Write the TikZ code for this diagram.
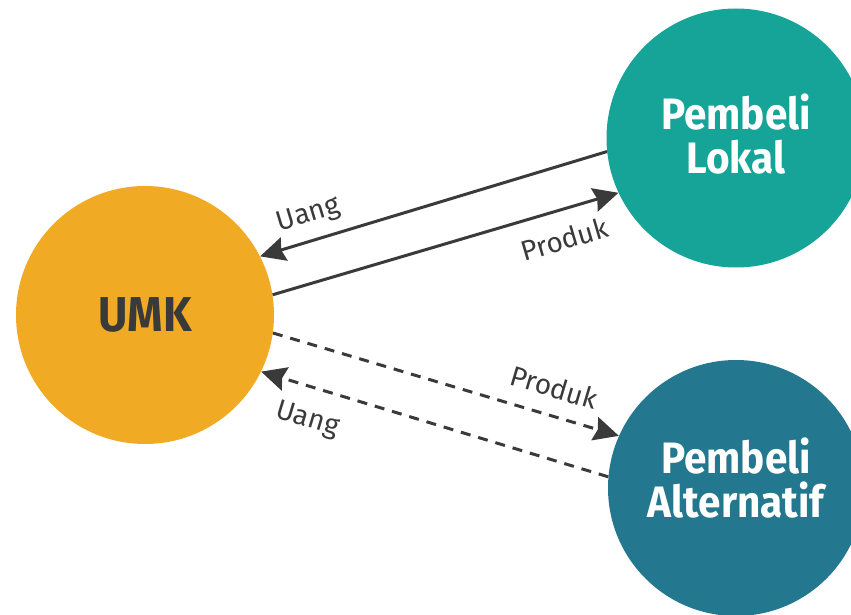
\documentclass[tikz,border=0pt]{standalone}
\usepackage{fontspec}
\setmainfont{Fira Sans}
\newfontfamily\headfont[FakeStretch=0.92]{Fira Sans}
\usetikzlibrary{arrows.meta}
\definecolor{umkorange}{RGB}{240,170,35}
\definecolor{lokalteal}{RGB}{22,164,152}
\definecolor{altblue}{RGB}{35,120,143}
\definecolor{arrowgray}{RGB}{58,58,58}
\newcommand{\lowpad}[1]{\rule[-#1]{0pt}{#1}}

\begin{document}
\begin{tikzpicture}[x=1pt, y=-1pt,
            every node/.style = {circle, minimum size = 258pt, inner sep = 0pt, align = center,
                                 font = \headfont\bfseries\fontsize{44}{44}\selectfont},
            flow/.style = {draw = arrowgray, line width = 3pt, -{Stealth[length=25pt, width=24pt, inset=3pt]}},
            altflow/.style = {flow, dash pattern = on 10pt off 8pt},
            lbl/.style = {rectangle, minimum size = 0pt, sloped, text = arrowgray,
                          font = \fontsize{28}{30}\selectfont}
        ]
        \useasboundingbox (0,0) rectangle (851,615);
        \clip (0,0) rectangle (851,615);
        \node[fill = umkorange, text = arrowgray, font = \headfont\bfseries\fontsize{49}{50}\selectfont] (A1) at (145,315) {UMK};
        \node[fill = lokalteal, text = white, minimum size = 259pt] (B1) at (736,138) {Pembeli\\Lokal\lowpad{8pt}};
        \node[fill = altblue, text = white, minimum size = 256pt] (B2) at (736,488) {Pembeli\\Alternatif\lowpad{20pt}};
        \path (B1.186) edge[flow] node[lbl, pos=0.84, above=11pt] {Uang} (A1.27);
        \path (A1.9) edge[flow] node[lbl, pos=0.82, below=17pt] {Produk} (B1.205);
        \path (A1.-8) edge[altflow] node[lbl, pos=0.79, above=16pt] {Produk} (B2.156);
        \path (B2.175) edge[altflow] node[lbl, pos=0.84, below=19pt] {Uang} (A1.-26);
    \end{tikzpicture}
\end{document}
